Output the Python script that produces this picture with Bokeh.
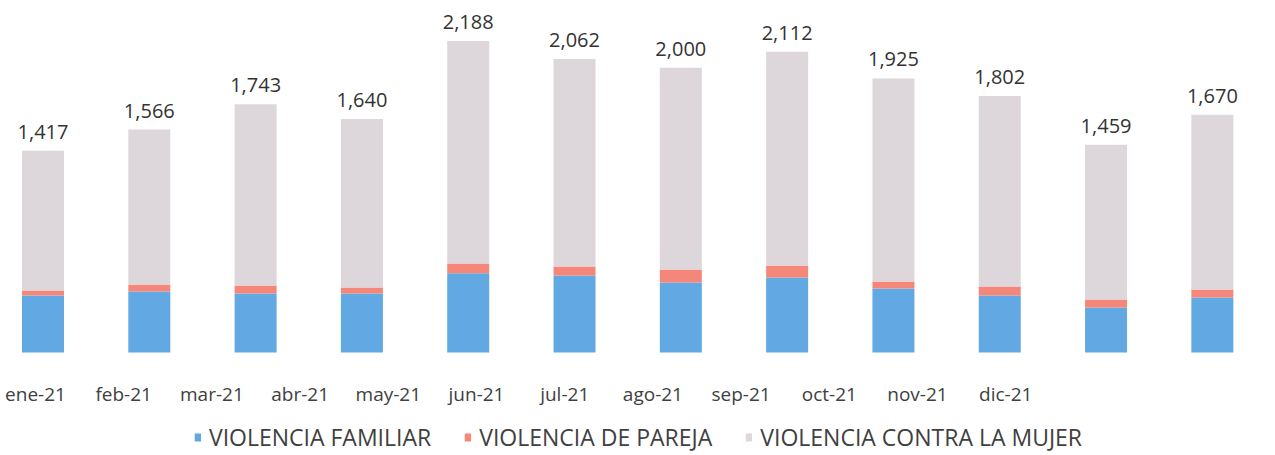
from bokeh.plotting import figure
from bokeh.models import (ColumnDataSource, Range1d, LinearAxis, FixedTicker,
                          Legend, LegendItem)
from bokeh.embed import file_html
from bokeh.resources import INLINE
from bokeh.core.properties import value

months = ["ene-21", "feb-21", "mar-21", "abr-21", "may-21", "jun-21",
          "jul-21", "ago-21", "sep-21", "oct-21", "nov-21", "dic-21"]
familiar = [401, 429, 415, 415, 556, 541, 492, 527, 450, 401, 316, 387]
pareja = [35, 49, 56, 42, 70, 63, 91, 84, 49, 63, 56, 56]
mujer = [981, 1088, 1272, 1183, 1562, 1458, 1417, 1501, 1426, 1338, 1087, 1227]
totals = [1417, 1566, 1743, 1640, 2188, 2062, 2000, 2112, 1925, 1802, 1459, 1670]

series = ["familiar", "pareja", "mujer"]
series_names = ["VIOLENCIA FAMILIAR", "VIOLENCIA DE PAREJA", "VIOLENCIA CONTRA LA MUJER"]
colors = ["#62A8E2", "#F4877A", "#DDD7DC"]

idx = list(range(len(months)))
source = ColumnDataSource(dict(
    x=idx, familiar=familiar, pareja=pareja, mujer=mujer,
    total=totals, label=[f"{t:,}" for t in totals],
))

FONT = "Open Sans"

p = figure(frame_width=1275, frame_height=455, output_backend="svg",
           toolbar_location=None,
           x_axis_type=None, y_axis_type=None,
           x_range=Range1d(-0.3998, 11.594), y_range=Range1d(-723, 2472),
           min_border_left=0, min_border_right=0, min_border_top=0,
           min_border_bottom=0)
p.outline_line_color = None
p.grid.visible = False
p.background_fill_color = "white"

renderers = p.vbar_stack(series, x="x", width=0.395, source=source,
                         color=colors, line_color=None)

p.text(x="x", y="total", text="label", source=source,
       text_font=value(FONT), text_font_size="20px", text_color="#333333",
       text_align="center", text_baseline="alphabetic", y_offset=-19)

# category label axis (drawn at y = 0)
p.extra_x_ranges = {"lab": Range1d(-0.397, 14.059)}
ax = LinearAxis(x_range_name="lab", ticker=FixedTicker(ticks=idx),
                major_label_overrides={i: m for i, m in zip(idx, months)},
                fixed_location=0)
ax.axis_line_color = None
ax.major_tick_line_color = None
ax.minor_tick_line_color = None
ax.major_tick_out = 0
ax.major_tick_in = 0
ax.major_label_text_font = FONT
ax.major_label_text_font_size = "19px"
ax.major_label_text_color = "#404040"
ax.major_label_standoff = 28
p.add_layout(ax, "below")

legend = Legend(items=[LegendItem(label=n, renderers=[r])
                       for n, r in zip(series_names, renderers)],
                orientation="horizontal", location="bottom_center")
legend.label_text_font = FONT
legend.label_text_font_size = "23px"
legend.label_text_color = "#404040"
legend.glyph_width = 8
legend.glyph_height = 10
legend.label_standoff = 8
legend.spacing = 32
legend.border_line_color = None
legend.background_fill_alpha = 0
legend.padding = 0
legend.margin = 2
p.add_layout(legend, "center")

open("out.html", "w").write(file_html(p, INLINE))
